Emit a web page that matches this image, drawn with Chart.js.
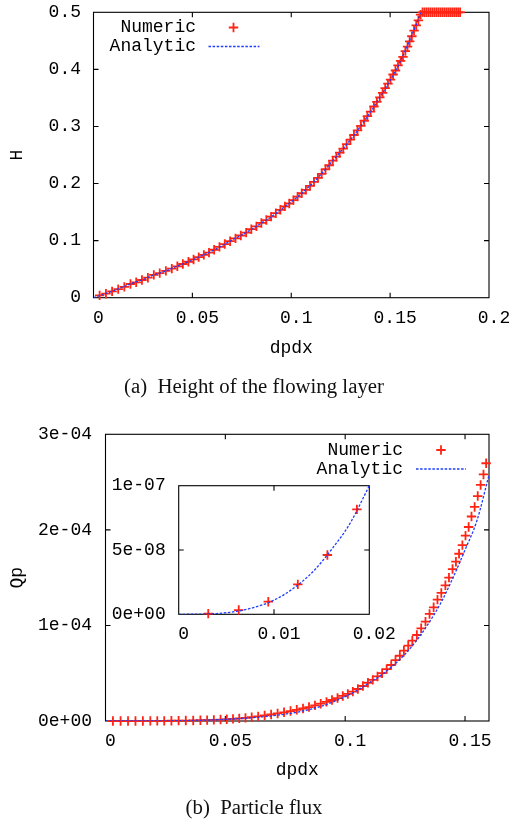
<!DOCTYPE html>
<html><head><meta charset="utf-8">
<script src="https://cdn.jsdelivr.net/npm/chart.js@4.4.1/dist/chart.umd.min.js"></script>
<style>
html,body{margin:0;padding:0;background:#fff;width:511px;height:820px;overflow:hidden;}
canvas{position:absolute;}
.cap{position:absolute;left:-1.5px;width:511px;text-align:center;font-family:"Liberation Serif","Times New Roman",serif;font-size:20.8px;line-height:22px;color:#111;white-space:pre;}
</style></head><body>
<canvas id="cH" width="511" height="400" style="left:0;top:0"></canvas>
<canvas id="cQ" width="511" height="410" style="left:0;top:410px"></canvas>
<canvas id="cI" width="330" height="200" style="left:100px;top:470px"></canvas>
<div class="cap" style="top:375px">(a)  Height of the flowing layer</div>
<div class="cap" style="top:796px">(b)  Particle flux</div>
<script>
// ---------- data ----------
const seriesNames = ['Numeric', 'Analytic'];
const xLabel = 'dpdx';
const yLabelH = 'H';
const yLabelQ = 'Qp';

// numeric dpdx samples (shared by both panels)
const xNum = [0.0031,0.0063,0.0094,0.0125,0.0156,0.0187,0.0216,0.0245,0.0275,0.0305,
  0.0335,0.0366,0.0396,0.0424,0.0452,0.048,0.0506,0.0532,0.0558,0.0584,
  0.061,0.0637,0.0664,0.0691,0.0718,0.0745,0.0772,0.0798,0.0824,0.0849,
  0.0874,0.0898,0.0922,0.0945,0.0968,0.099,0.1011,0.1032,0.1053,0.1074,
  0.1095,0.1115,0.1135,0.1154,0.1173,0.1192,0.121,0.1228,0.1245,0.1263,
  0.128,0.1299,0.1317,0.1335,0.1352,0.1369,0.1385,0.1401,0.1418,0.1433,
  0.1448,0.1462,0.1475,0.1489,0.1502,0.1515,0.1527,0.154,0.1553,0.1565,
  0.1577,0.1588,0.1599,0.161,0.1621,0.1632,0.1643,0.1654,0.1664,0.1674,
  0.1684,0.1694,0.1704,0.1714,0.1724,0.1734,0.1744,0.1754,0.1764,0.1774,
  0.1784,0.1794,0.1804,0.1814,0.1824,0.1834,0.1844,0.1854];
// numeric H
const hNum = [0.004,0.007,0.011,0.015,0.019,0.024,0.027,0.031,0.035,0.040,
  0.043,0.047,0.051,0.055,0.059,0.063,0.067,0.071,0.075,0.079,
  0.084,0.089,0.094,0.099,0.104,0.109,0.114,0.120,0.125,0.131,
  0.136,0.142,0.148,0.154,0.160,0.165,0.171,0.177,0.183,0.189,
  0.196,0.203,0.210,0.217,0.225,0.232,0.240,0.247,0.254,0.261,
  0.269,0.277,0.285,0.293,0.301,0.310,0.318,0.326,0.335,0.343,
  0.351,0.359,0.367,0.375,0.382,0.391,0.398,0.407,0.415,0.422,
  0.432,0.440,0.449,0.458,0.468,0.477,0.486,0.496,0.5,0.5,
  0.5,0.5,0.5,0.5,0.5,0.5,0.5,0.5,0.5,0.5,
  0.5,0.5,0.5,0.5,0.5,0.5,0.5,0.5];
// numeric Qp (first 72 samples, up to dpdx = 0.1588)
const qpNum = [0.05e-8,0.33e-8,0.98e-8,2.33e-8,4.61e-8,8.16e-8,0.0012e-4,0.0018e-4,0.0026e-4,0.0035e-4,
  0.0046e-4,0.006e-4,0.0077e-4,0.0095e-4,0.012e-4,0.015e-4,0.018e-4,0.022e-4,0.027e-4,0.033e-4,
  0.040e-4,0.048e-4,0.058e-4,0.068e-4,0.079e-4,0.091e-4,0.104e-4,0.117e-4,0.131e-4,0.146e-4,
  0.163e-4,0.181e-4,0.200e-4,0.220e-4,0.240e-4,0.262e-4,0.283e-4,0.307e-4,0.335e-4,0.366e-4,
  0.40e-4,0.43e-4,0.466e-4,0.50e-4,0.543e-4,0.586e-4,0.638e-4,0.683e-4,0.736e-4,0.788e-4,
  0.84e-4,0.90e-4,0.97e-4,1.04e-4,1.12e-4,1.19e-4,1.27e-4,1.34e-4,1.42e-4,1.50e-4,
  1.59e-4,1.667e-4,1.75e-4,1.84e-4,1.94e-4,2.03e-4,2.14e-4,2.24e-4,2.354e-4,2.47e-4,
  2.58e-4,2.697e-4];
// inset uses the first samples
const insetCount = 6;

// analytic H(dpdx)
const xAnaH = [0,0.005,0.01,0.015,0.02,0.025,0.03,0.035,0.04,0.045,0.05,0.055,0.06,0.065,0.07,0.075,
  0.08,0.085,0.09,0.095,0.1,0.105,0.11,0.115,0.12,0.125,0.13,0.135,0.14,0.145,0.15,0.155,0.16,0.1657];
const hAna = [0,0.006,0.012,0.019,0.026,0.032,0.039,0.045,0.052,0.059,0.066,0.074,0.082,0.091,0.101,0.110,
  0.120,0.131,0.142,0.155,0.168,0.182,0.198,0.216,0.236,0.256,0.277,0.300,0.325,0.352,0.381,0.413,0.452,0.500];
// analytic Qp(dpdx)
const xAnaQ = [0,0.005,0.01,0.015,0.02,0.025,0.03,0.035,0.04,0.045,0.05,0.055,0.06,0.065,0.07,0.075,
  0.08,0.085,0.09,0.095,0.1,0.105,0.11,0.115,0.12,0.125,0.13,0.135,0.14,0.145,0.15,0.155,0.16];
const qpAna = [0,0.00001e-4,0.00012e-4,0.0004e-4,0.001e-4,0.0018e-4,0.003e-4,0.005e-4,0.008e-4,0.012e-4,
  0.017e-4,0.024e-4,0.032e-4,0.043e-4,0.056e-4,0.072e-4,0.093e-4,0.12e-4,0.155e-4,0.20e-4,
  0.255e-4,0.32e-4,0.40e-4,0.48e-4,0.58e-4,0.70e-4,0.85e-4,1.03e-4,1.24e-4,1.50e-4,1.79e-4,2.10e-4,2.574e-4];
// analytic Qp in the inset range
const xAnaI = [0,0.002,0.004,0.006,0.008,0.01,0.012,0.014,0.016,0.018,0.02];
const qpAnaI = [0,0.01e-8,0.06e-8,0.22e-8,0.55e-8,1.10e-8,2.0e-8,3.25e-8,5.0e-8,7.1e-8,10.0e-8];

// ticks
const xTicksH = [0,0.05,0.1,0.15,0.2];
const xTickLabelsH = ['0','0.05','0.1','0.15','0.2'];
const yTicksH = [0,0.1,0.2,0.3,0.4,0.5];
const yTickLabelsH = ['0','0.1','0.2','0.3','0.4','0.5'];
const xTicksQ = [0,0.05,0.1,0.15];
const xTickLabelsQ = ['0','0.05','0.1','0.15'];
const yTicksQ = [0,1e-4,2e-4,3e-4];
const yTickLabelsQ = ['0e+00','1e-04','2e-04','3e-04'];
const xTicksI = [0,0.01,0.02];
const xTickLabelsI = ['0','0.01','0.02'];
const yTicksI = [0,5e-8,1e-7];
const yTickLabelsI = ['0e+00','5e-08','1e-07'];

// ---------- styling ----------
const RED = '#ff2414';
const BLUE = '#1f3cff';
const MONO = '"Liberation Mono","DejaVu Sans Mono",monospace';
const tickFont = {family: MONO, size: 18};

const framePlugin = {
  id: 'frame',
  beforeDatasetsDraw(chart) {
    const {ctx, chartArea: a} = chart;
    const xs = chart.scales.x, ys = chart.scales.y;
    const L = 5;
    ctx.save();
    ctx.strokeStyle = '#000';
    ctx.lineWidth = 1.1;
    ctx.strokeRect(a.left, a.top, a.right - a.left, a.bottom - a.top);
    ctx.beginPath();
    xs.ticks.forEach(t => {
      const p = xs.getPixelForValue(t.value);
      if (p <= a.left + 1 || p >= a.right - 1) return;
      ctx.moveTo(p, a.bottom); ctx.lineTo(p, a.bottom - L);
      ctx.moveTo(p, a.top); ctx.lineTo(p, a.top + L);
    });
    ys.ticks.forEach(t => {
      const p = ys.getPixelForValue(t.value);
      if (p <= a.top + 1 || p >= a.bottom - 1) return;
      ctx.moveTo(a.left, p); ctx.lineTo(a.left + L, p);
      ctx.moveTo(a.right, p); ctx.lineTo(a.right - L, p);
    });
    ctx.stroke();
    ctx.restore();
  }
};

const keyPlugin = {
  id: 'key',
  afterDraw(chart, args, o) {
    if (!o || !o.show) return;
    const ctx = chart.ctx;
    const ds = chart.data.datasets;
    ctx.save();
    ctx.font = '18px ' + MONO;
    ctx.fillStyle = '#000';
    ctx.textAlign = 'right';
    ctx.textBaseline = 'middle';
    ds.forEach((d, i) => {
      const y = o.rows[i];
      ctx.fillText(d.label, o.textRight, y);
      ctx.strokeStyle = d.borderColor;
      if (d.showLine) {
        ctx.lineWidth = d.borderWidth;
        ctx.setLineDash(d.borderDash || []);
        ctx.beginPath(); ctx.moveTo(o.lineFrom, y); ctx.lineTo(o.lineTo, y); ctx.stroke();
        ctx.setLineDash([]);
      } else {
        ctx.lineWidth = d.pointBorderWidth;
        const r = d.pointRadius;
        ctx.beginPath();
        ctx.moveTo(o.markX - r, y); ctx.lineTo(o.markX + r, y);
        ctx.moveTo(o.markX, y - r); ctx.lineTo(o.markX, y + r);
        ctx.stroke();
      }
    });
    ctx.restore();
  }
};

function axis(ticks, labels, min, max, opts) {
  return {
    type: 'linear', min, max,
    afterBuildTicks: s => { s.ticks = ticks.map(v => ({value: v})); },
    afterFit: s => {
      if (opts.width !== undefined) s.width = opts.width;
      if (opts.height !== undefined) s.height = opts.height;
      s.paddingLeft = 0; s.paddingRight = 0; s.paddingTop = 0; s.paddingBottom = 0;
    },
    ticks: {
      callback: (v, i) => labels[i],
      font: tickFont, color: '#000', padding: opts.pad,
      labelOffset: opts.labelOffset || 0,
      autoSkip: false, maxRotation: 0, minRotation: 0
    },
    grid: {display: false, drawTicks: false},
    border: {display: false},
    title: opts.title ? {display: true, text: opts.title, font: tickFont, color: '#000', padding: opts.titlePad} : {display: false}
  };
}

function numericSet(xs, ys) {
  return {label: seriesNames[0], data: ys.map((y, i) => ({x: xs[i], y})),
    showLine: false, pointStyle: 'cross', pointRadius: 4.7, pointHoverRadius: 4.7,
    borderColor: RED, pointBorderColor: RED, pointBorderWidth: 1.8, borderWidth: 1.8,
    clip: false, order: 2};
}
function analyticSet(xs, ys) {
  return {label: seriesNames[1], data: ys.map((y, i) => ({x: xs[i], y})),
    showLine: true, pointRadius: 0, borderColor: BLUE, borderWidth: 1.3,
    borderDash: [2.5, 1.6], cubicInterpolationMode: 'monotone', fill: false, order: 1};
}

const common = {responsive: false, animation: false, events: [], devicePixelRatio: 1};

// ---------- panel (a) ----------
new Chart(document.getElementById('cH'), {
  type: 'scatter',
  data: {datasets: [numericSet(xNum, hNum), analyticSet(xAnaH, hAna)]},
  options: Object.assign({}, common, {
    layout: {padding: {left: 0, right: 22, top: 12.3, bottom: 37.3}},
    scales: {
      x: axis(xTicksH, xTickLabelsH, 0, 0.2, {height: 65, pad: 9.5, labelOffset: 5, title: xLabel, titlePad: {top: 0, bottom: 4}}),
      y: axis(yTicksH, yTickLabelsH, 0, 0.5, {width: 93.5, pad: 12.5, title: yLabelH, titlePad: {top: 6, bottom: 0}})
    },
    plugins: {legend: {display: false}, tooltip: {enabled: false},
      key: {show: true, textRight: 196, rows: [27.5, 46.5], markX: 233.5, lineFrom: 208.5, lineTo: 259.5}}
  }),
  plugins: [framePlugin, keyPlugin]
});

// ---------- panel (b) ----------
new Chart(document.getElementById('cQ'), {
  type: 'scatter',
  data: {datasets: [numericSet(xNum, qpNum), analyticSet(xAnaQ, qpAna)]},
  options: Object.assign({}, common, {
    layout: {padding: {left: 0, right: 22, top: 24.3, bottom: 34}},
    scales: {
      x: axis(xTicksQ, xTickLabelsQ, 0, 0.16, {height: 65, pad: 9.9, labelOffset: 5, title: xLabel, titlePad: {top: 0, bottom: 5.2}}),
      y: axis(yTicksQ, yTickLabelsQ, 0, 3e-4, {width: 105.5, pad: 13.5, title: yLabelQ, titlePad: {top: 6.5, bottom: 0}})
    },
    plugins: {legend: {display: false}, tooltip: {enabled: false},
      key: {show: true, textRight: 403, rows: [40, 59], markX: 441, lineFrom: 416, lineTo: 466}}
  }),
  plugins: [framePlugin, keyPlugin]
});

// ---------- inset ----------
new Chart(document.getElementById('cI'), {
  type: 'scatter',
  data: {datasets: [numericSet(xNum.slice(0, insetCount), qpNum.slice(0, insetCount)), analyticSet(xAnaI, qpAnaI)]},
  options: Object.assign({}, common, {
    layout: {padding: {left: 0, right: 60.7, top: 15.7, bottom: 0}},
    scales: {
      x: axis(xTicksI, xTickLabelsI, 0, 0.02, {height: 55.7, pad: 8.9, labelOffset: 5}),
      y: axis(yTicksI, yTickLabelsI, 0, 1e-7, {width: 78.7, pad: 13})
    },
    plugins: {legend: {display: false}, tooltip: {enabled: false}, key: {show: false}}
  }),
  plugins: [framePlugin, keyPlugin]
});
</script>
</body></html>
